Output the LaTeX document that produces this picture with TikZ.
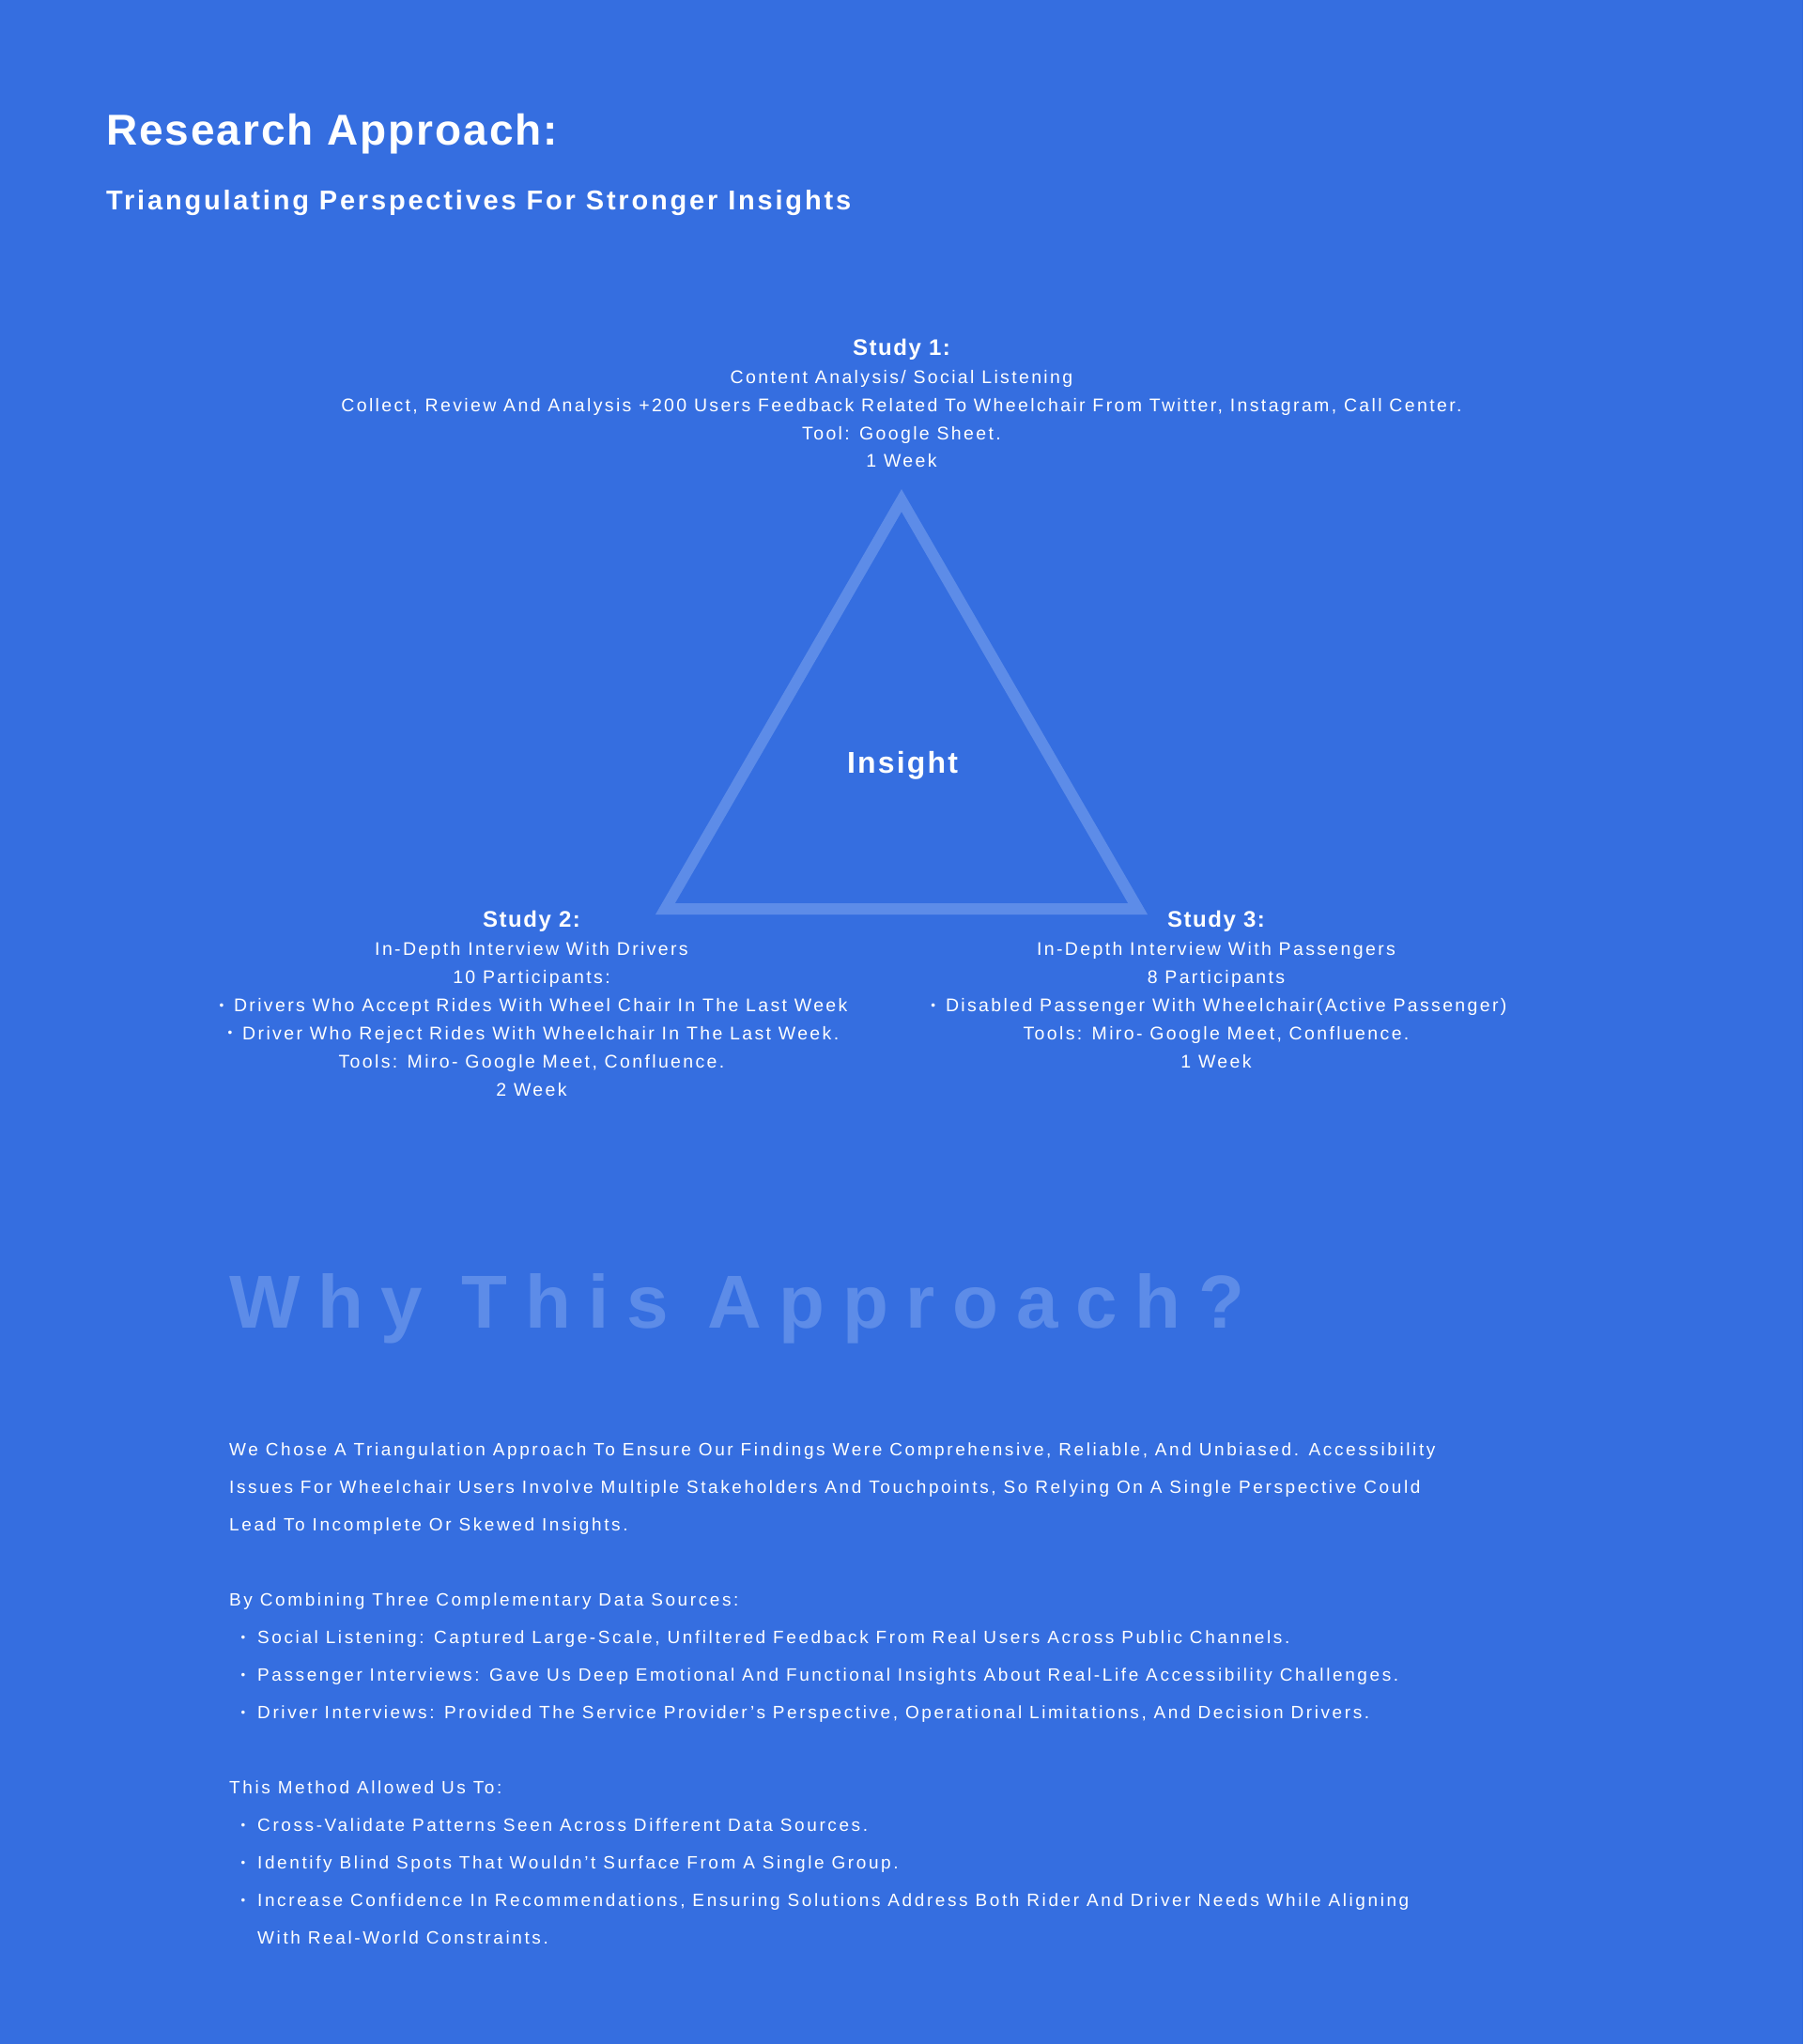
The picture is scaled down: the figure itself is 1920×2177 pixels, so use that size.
\documentclass[tikz,border=0pt]{standalone}
\usepackage{fontspec}
\setmainfont{Liberation Sans}
\newfontfamily\fTitle[LetterSpace=4.2,Ligatures=NoCommon]{Liberation Sans}
\newfontfamily\fSub[LetterSpace=9.7,Ligatures=NoCommon]{Liberation Sans}
\newfontfamily\fHead[LetterSpace=6.4,Ligatures=NoCommon]{Liberation Sans}
\newfontfamily\fStudy[LetterSpace=12.1,Ligatures=NoCommon]{Liberation Sans}
\newfontfamily\fIns[LetterSpace=6.8,Ligatures=NoCommon]{Liberation Sans}
\newfontfamily\fWhy[LetterSpace=23.4,Ligatures=NoCommon]{Liberation Sans}
\newfontfamily\fBody[LetterSpace=13.7,Ligatures=NoCommon]{Liberation Sans}
\definecolor{bgblue}{RGB}{53,110,224}
\definecolor{liteblue}{RGB}{93,140,232}
\newcommand\bul{\raisebox{0.12em}{\scalebox{0.7}{•}}}
\newcommand\bulgap{\bul\hspace{0.55em}}
\tikzset{
  txt/.style={inner sep=0pt, text=white},
  ttl/.style={txt, anchor=base west, font=\fTitle\bfseries\fontsize{46}{50}\selectfont},
  sub/.style={txt, anchor=base west, font=\fSub\bfseries\fontsize{29}{32}\selectfont},
  shead/.style={txt, anchor=base, font=\fHead\bfseries\fontsize{24}{28}\selectfont},
  sline/.style={txt, anchor=base, font=\fStudy\fontsize{19.5}{24}\selectfont},
  ins/.style={txt, anchor=base, font=\fIns\bfseries\fontsize{32}{36}\selectfont},
  why/.style={inner sep=0pt, text=liteblue, anchor=base west, font=\fWhy\bfseries\fontsize{80}{90}\selectfont},
  body/.style={txt, anchor=base west, font=\fBody\fontsize{19}{23}\selectfont},
  bdot/.style={txt, anchor=base, font=\fBody\fontsize{19}{23}\selectfont},
  tri/.style={draw=liteblue, line width=12pt, miter limit=10}
}
\begin{document}
\begin{tikzpicture}[x=1pt,y=-1pt]
\fill[bgblue] (0,0) rectangle (1920,2177);
\useasboundingbox (0,0) rectangle (1920,2177);

% titles
\node[ttl] (title) at (113,154) {Research Approach:};
\node[sub] (subtitle) at (113,223.7) {Triangulating Perspectives For Stronger Insights};

% triangle
\coordinate (apex) at (960,533);
\coordinate (bl) at (708.4,968);
\coordinate (br) at (1211.6,968);
\draw[tri] (apex) -- (bl) -- (br) -- cycle;
\node[ins] (insight) at (961,823) {Insight};

% study 1
\node[shead] (s1h) at (960,378) {Study 1:};
\node[sline] (s1a) at (960,408) {Content Analysis/ Social Listening};
\node[sline] (s1b) at (960,438) {Collect, Review And Analysis +200 Users Feedback Related To Wheelchair From Twitter, Instagram, Call Center.};
\node[sline] (s1c) at (960,468) {Tool: Google Sheet.};
\node[sline] (s1d) at (960,497.5) {1 Week};

% study 2
\node[shead] (s2h) at (566,987.3) {Study 2:};
\node[sline] (s2a) at (566,1017.5) {In-Depth Interview With Drivers};
\node[sline] (s2b) at (566,1047.5) {10 Participants:};
\node[sline] (s2c) at (568,1077.5) {\bulgap Drivers Who Accept Rides With Wheel Chair In The Last Week};
\node[sline] (s2d) at (568,1107.3) {\bulgap Driver Who Reject Rides With Wheelchair In The Last Week.};
\node[sline] (s2e) at (566,1137.3) {Tools: Miro- Google Meet, Confluence.};
\node[sline] (s2f) at (566,1167.3) {2 Week};

% study 3
\node[shead] (s3h) at (1295,987.3) {Study 3:};
\node[sline] (s3a) at (1295,1017.5) {In-Depth Interview With Passengers};
\node[sline] (s3b) at (1295,1047.5) {8 Participants};
\node[sline] (s3c) at (1298,1077.5) {\bulgap Disabled Passenger With Wheelchair(Active Passenger)};
\node[sline] (s3d) at (1295,1107.3) {Tools: Miro- Google Meet, Confluence.};
\node[sline] (s3e) at (1295,1137.3) {1 Week};

% why
\node[why] (why) at (244,1414) {Why This Approach?};

\node[body] (p1) at (244,1550.7) {We Chose A Triangulation Approach To Ensure Our Findings Were Comprehensive, Reliable, And Unbiased. Accessibility};
\node[body] (p2) at (244,1590.7) {Issues For Wheelchair Users Involve Multiple Stakeholders And Touchpoints, So Relying On A Single Perspective Could};
\node[body] (p3) at (244,1630.7) {Lead To Incomplete Or Skewed Insights.};

\node[body] (q0) at (244,1710.7) {By Combining Three Complementary Data Sources:};
\node[bdot] (qd1) at (259,1750.7) {\bul};
\node[body] (q1) at (274,1750.7) {Social Listening: Captured Large-Scale, Unfiltered Feedback From Real Users Across Public Channels.};
\node[bdot] (qd2) at (259,1790.7) {\bul};
\node[body] (q2) at (274,1790.7) {Passenger Interviews: Gave Us Deep Emotional And Functional Insights About Real-Life Accessibility Challenges.};
\node[bdot] (qd3) at (259,1830.7) {\bul};
\node[body] (q3) at (274,1830.7) {Driver Interviews: Provided The Service Provider’s Perspective, Operational Limitations, And Decision Drivers.};

\node[body] (r0) at (244,1910.7) {This Method Allowed Us To:};
\node[bdot] (rd1) at (259,1950.7) {\bul};
\node[body] (r1) at (274,1950.7) {Cross-Validate Patterns Seen Across Different Data Sources.};
\node[bdot] (rd2) at (259,1990.7) {\bul};
\node[body] (r2) at (274,1990.7) {Identify Blind Spots That Wouldn’t Surface From A Single Group.};
\node[bdot] (rd3) at (259,2030.7) {\bul};
\node[body] (r3) at (274,2030.7) {Increase Confidence In Recommendations, Ensuring Solutions Address Both Rider And Driver Needs While Aligning};
\node[body] (r4) at (274,2070.7) {With Real-World Constraints.};
\end{tikzpicture}
\end{document}
